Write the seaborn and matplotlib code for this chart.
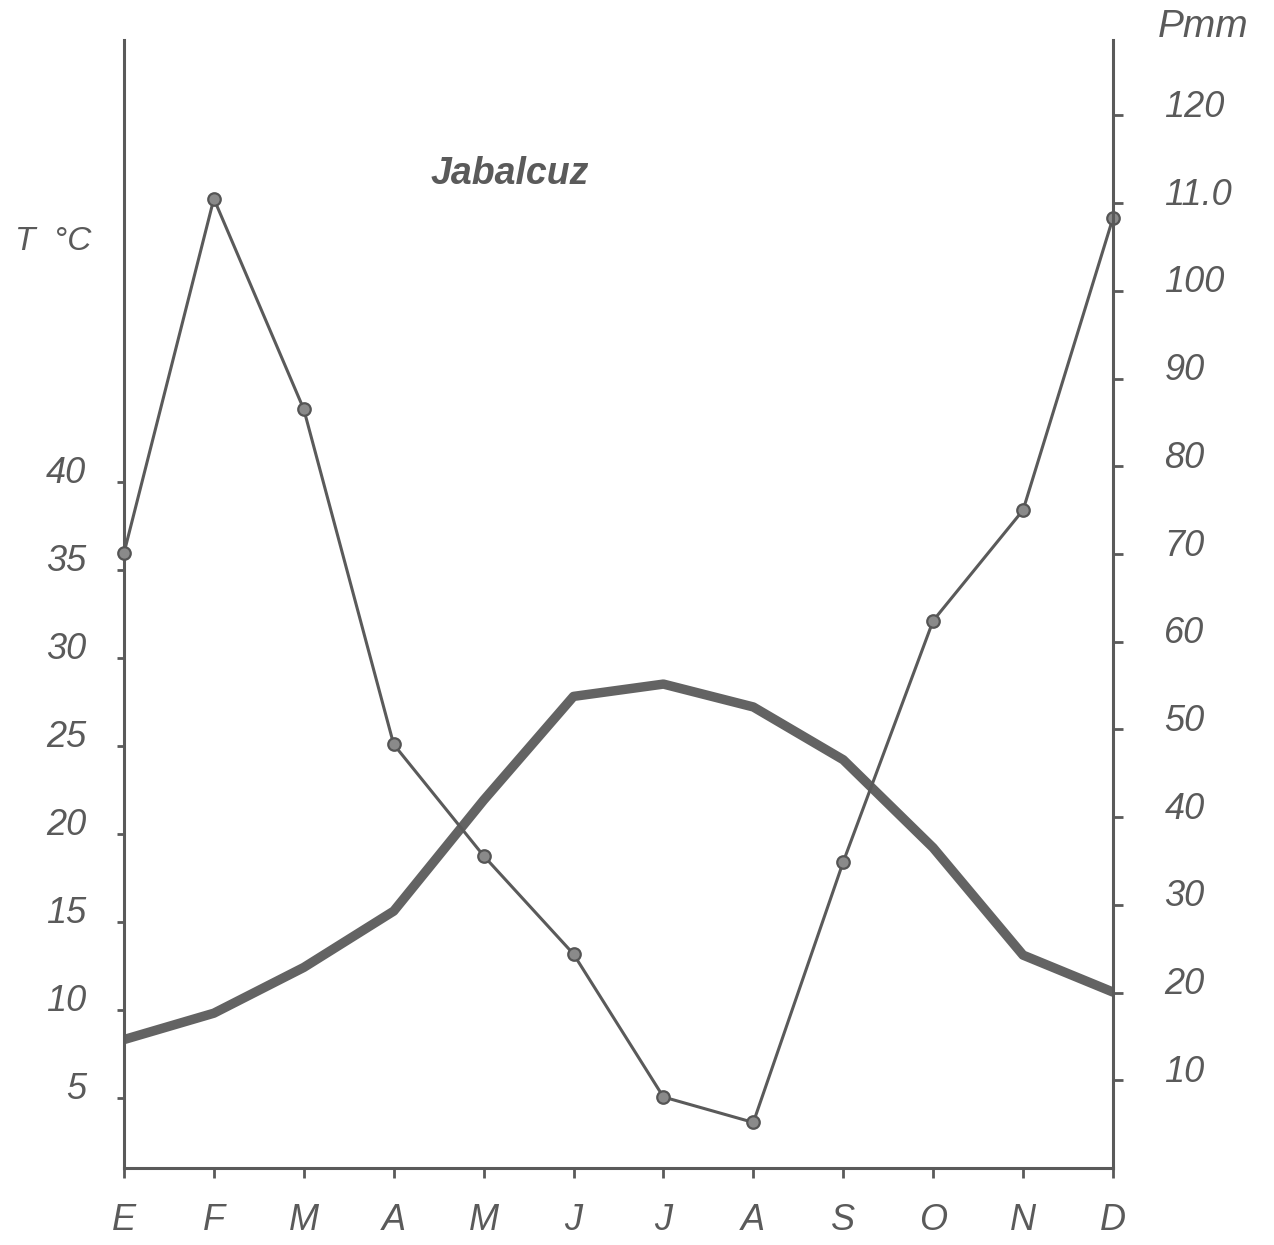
import numpy as np
import pandas as pd
import matplotlib
matplotlib.use('Agg')
import matplotlib.pyplot as plt
import matplotlib.transforms as mtransforms
import seaborn as sns

# monthly values (Jabalcuz)
months = ['E', 'F', 'M', 'A', 'M', 'J', 'J', 'A', 'S', 'O', 'N', 'D']
temp_c = [8.3, 9.8, 12.4, 15.6, 21.9, 27.8, 28.5, 27.2, 24.2, 19.2, 13.1, 11.0]
precip_mm = [70.1, 110.5, 86.5, 48.3, 35.6, 24.4, 8.1, 5.2, 34.9, 62.4, 75.0, 108.3]
t_ticks = [5, 10, 15, 20, 25, 30, 35, 40]
p_ticks = [10, 20, 30, 40, 50, 60, 70, 80, 90, 100, 110, 120]
p_labels = ['10', '20', '30', '40', '50', '60', '70', '80', '90', '100', '11.0', '120']

df = pd.DataFrame({'mes': np.arange(len(months)), 'T': temp_c, 'P': precip_mm})

sns.set_style('white')
plt.rcParams['font.family'] = ['Liberation Sans', 'DejaVu Sans']

ink = '#5a5a5a'
fig = plt.figure(figsize=(12.74, 12.45), dpi=100)
ax = fig.add_axes([0.0973, 0.0618, 0.7763, 0.9061])
ax2 = ax.twinx()

sns.lineplot(data=df, x='mes', y='T', ax=ax, color='#636363', linewidth=6.8,
             solid_capstyle='round', solid_joinstyle='round', sort=False)
sns.lineplot(data=df, x='mes', y='P', ax=ax2, color=ink, linewidth=2.2,
             marker='o', markersize=9, markerfacecolor='#8a8a8a',
             markeredgecolor='#555555', markeredgewidth=1.6, sort=False, clip_on=False)

ax.set_xlim(0, 11)
ax.set_ylim(1.0, 65.1)
ax2.set_ylim(0, 128.6)

ax.set_xticks(df['mes'])
ax.set_xticklabels(months)
ax.set_yticks(t_ticks)
ax.set_yticklabels([str(t) for t in t_ticks])
ax2.set_yticks(p_ticks)
ax2.set_yticklabels(p_labels)

for a in (ax, ax2):
    a.set_xlabel('')
    a.set_ylabel('')
    a.spines['top'].set_visible(False)
    for s in a.spines.values():
        s.set_color(ink)
        s.set_linewidth(2.2)
ax.spines['right'].set_visible(False)
ax2.spines['left'].set_visible(False)
ax2.spines['bottom'].set_visible(False)

ax.tick_params(axis='y', direction='out', length=5, width=2, color=ink, pad=22,
               labelsize=26, labelcolor=ink)
ax.tick_params(axis='x', direction='out', length=7, width=2, color=ink, pad=18,
               labelsize=26, labelcolor=ink, bottom=True)
ax2.tick_params(axis='y', direction='out', length=7, width=2, color=ink, pad=30,
                labelsize=26, labelcolor=ink, right=True)

shift = mtransforms.ScaledTranslation(0, 12 / 100, fig.dpi_scale_trans)
for lab in ax.get_yticklabels() + ax2.get_yticklabels():
    lab.set_transform(lab.get_transform() + shift)
    lab.set_fontstyle('italic')
for lab in ax.get_xticklabels():
    lab.set_fontstyle('italic')

fig.text(0.012, 0.806, 'T  °C', fontsize=24, style='italic', color=ink, va='center', ha='left')
fig.text(0.909, 0.978, 'Pmm', fontsize=28, style='italic', color=ink, va='center', ha='left')
fig.text(0.40, 0.860, 'Jabalcuz', fontsize=27, style='italic', color=ink, va='center',
         ha='center', fontweight='bold')

fig.savefig('out.png', dpi=100)
